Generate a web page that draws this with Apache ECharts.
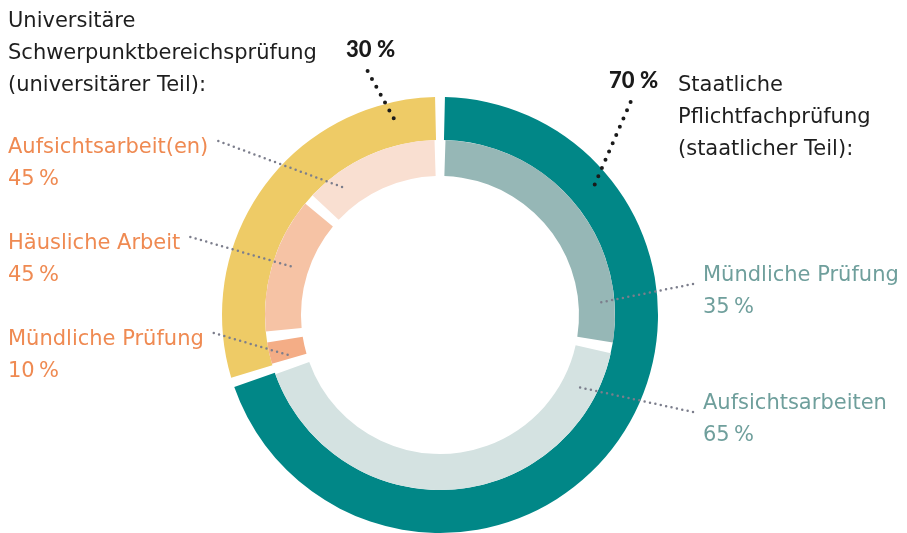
<!DOCTYPE html>
<html><head><meta charset="utf-8">
<script src="https://cdn.jsdelivr.net/npm/echarts@6/dist/echarts.min.js"></script>
<style>html,body{margin:0;padding:0;background:#fff}#c{width:907px;height:533px}</style>
</head><body><div id="c"></div>
<script>
// ---------- data ----------
const outerNames = ['Staatliche Pflichtfachprüfung (staatlicher Teil)', 'Universitäre Schwerpunktbereichsprüfung (universitärer Teil)'];
const outerShares = [70, 30];
const outerLabels = ['70\u202F%', '30\u202F%'];
const innerNames = ['Mündliche Prüfung', 'Aufsichtsarbeiten', 'Mündliche Prüfung', 'Häusliche Arbeit', 'Aufsichtsarbeit(en)'];
const innerShares = [28, 42, 3, 13.5, 13.5]; // share of full circle as drawn
const innerLabels = ['35\u202F%', '65\u202F%', '10\u202F%', '45\u202F%', '45\u202F%'];
const headStaat = ['Staatliche', 'Pflichtfachprüfung', '(staatlicher Teil):'];
const headUni = ['Universitäre', 'Schwerpunktbereichsprüfung', '(universitärer Teil):'];

// ---------- styles / layout ----------
const FONT = '"DejaVu Sans"';
const FONT_BOLD = 'Lato';
const FS = 21;
const CX = 440, CY = 315;
const outerR = [175, 218], innerR = [139, 175];
const outerColors = ['#018787', '#eecb66'];
const innerColors = ['#96b7b6', '#d4e2e1', '#f4ad86', '#f6c3a5', '#f9dfd1'];
const innerTextColors = ['#6f9f9c', '#6f9f9c', '#ef8a52', '#ef8a52', '#ef8a52'];
const innerLabelPos = [{x:703,y:260,side:'right'},{x:703,y:388,side:'right'},{x:8,y:324,side:'left'},{x:8,y:228,side:'left'},{x:8,y:132,side:'left'}];
const innerAnchorAt = [0.85, 0.11, 0.3, 0.52, 0.25];
const outerLabelPos = [{x:609,y:65},{x:346,y:34}];
const outerAnchorAt = [0.2, 0.88];
const TRANSPARENT = 'rgba(0,0,0,0)';

function sectorAngles(shares) {
  const total = shares.reduce((a, b) => a + b, 0);
  let acc = 0;
  return shares.map(v => { const s = acc / total * 360; acc += v; return [s, acc / total * 360]; });
}
function polar(deg, r) { const a = deg * Math.PI / 180; return [CX + r * Math.sin(a), CY - r * Math.cos(a)]; }
const innerAngles = sectorAngles(innerShares);
const outerAngles = sectorAngles(outerShares);

const base = {type: 'pie', center: [CX, CY], startAngle: 90, clockwise: true,
  avoidLabelOverlap: false, silent: true, emphasis: {disabled: true}};

const chart = echarts.init(document.getElementById('c'), null, {renderer: 'canvas'});
chart.setOption({
  animation: false,
  backgroundColor: '#ffffff',
  title: [
    {text: headUni.join('\n'), left: 8, top: 6, padding: 0,
     textStyle: {fontFamily: FONT, fontSize: FS, lineHeight: 32, fontWeight: 'normal', color: '#1e1e1e'}},
    {text: headStaat.join('\n'), left: 678, top: 70, padding: 0,
     textStyle: {fontFamily: FONT, fontSize: FS, lineHeight: 32, fontWeight: 'normal', color: '#1e1e1e'}}
  ],
  series: [
    // visible rings
    Object.assign({}, base, {z: 2, radius: outerR, padAngle: 2.6, label: {show: false}, labelLine: {show: false},
      data: outerNames.map((n, i) => ({name: n, value: outerShares[i], itemStyle: {color: outerColors[i]}}))}),
    Object.assign({}, base, {z: 2, radius: innerR, padAngle: 3.6, label: {show: false}, labelLine: {show: false},
      data: innerNames.map((n, i) => ({name: n, value: innerShares[i], itemStyle: {color: innerColors[i]}}))}),
    // label layers (transparent sectors, labels + leader lines above the rings)
    Object.assign({}, base, {z: 5, radius: outerR, padAngle: 2.6,
      data: outerNames.map((n, i) => ({name: n, value: outerShares[i], itemStyle: {color: TRANSPARENT}})),
      label: {show: true, position: 'outside', formatter: p => outerLabels[p.dataIndex],
        fontFamily: FONT_BOLD, fontSize: 22, fontWeight: 900, color: '#1a1a1a', lineHeight: 32},
      labelLine: {show: true, length: 10, length2: 10, smooth: false,
        lineStyle: {color: '#1a1a1a', width: 4, type: [0, 9], cap: 'round'}},
      labelLayout: function (p) {
        const i = p.dataIndex, pos = outerLabelPos[i], w = p.labelRect.width;
        const [s, e] = outerAngles[i];
        const anchor = polar(s + (e - s) * outerAnchorAt[i], outerR[0] + (outerR[1] - outerR[0]) * 0.55);
        const start = [pos.x + w / 2 - 3, pos.y + 37];
        return {x: pos.x, y: pos.y, align: 'left', verticalAlign: 'top', labelLinePoints: [start, anchor]};
      }}),
    Object.assign({}, base, {z: 5, radius: innerR, padAngle: 3.6,
      data: innerNames.map((n, i) => ({name: n, value: innerShares[i], itemStyle: {color: TRANSPARENT},
        label: {color: innerTextColors[i]}})),
      label: {show: true, position: 'outside', formatter: p => p.name + '\n' + innerLabels[p.dataIndex],
        fontFamily: FONT, fontSize: FS, lineHeight: 32},
      labelLine: {show: true, length: 10, length2: 10, smooth: false,
        lineStyle: {color: '#7c7e8c', width: 2.5, type: [0, 5.5], cap: 'round'}},
      labelLayout: function (p) {
        const i = p.dataIndex, pos = innerLabelPos[i], w = p.labelRect.width;
        const [s, e] = innerAngles[i];
        const anchor = polar(s + (e - s) * innerAnchorAt[i], (innerR[0] + innerR[1]) / 2);
        const start = pos.side === 'left' ? [pos.x + w + 10, pos.y + 9] : [pos.x - 10, pos.y + 24];
        return {x: pos.x, y: pos.y, align: 'left', verticalAlign: 'top', labelLinePoints: [start, anchor]};
      }})
  ]
});
</script>
</body></html>
